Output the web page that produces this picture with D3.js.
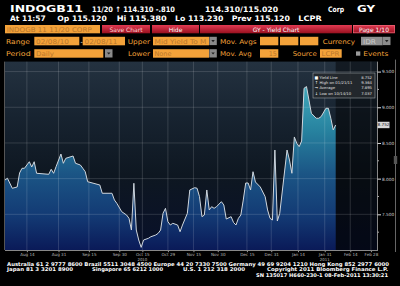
<!DOCTYPE html>
<html>
<head>
<meta charset="utf-8">
<script src="https://cdn.jsdelivr.net/npm/d3@7"></script>
<style>
  body { margin: 0; background: #000; }
  svg { display: block; }
</style>
</head>
<body>
<div id="chart"></div>
<script>
// trading-day index (0 = first day shown) and mid yield to maturity
const days = [0, 1, 3, 5, 6, 7, 8, 10, 11, 12, 13, 18, 19, 20, 21, 23, 24, 25, 28, 29,
  31, 32, 33, 34, 39, 40, 44, 45, 46, 48, 50, 51, 52, 53, 54, 55, 56, 57, 59, 60,
  62, 63, 64, 65, 66, 67, 68, 69, 71, 72, 73, 75, 76, 78, 79, 80, 81, 82, 83, 84,
  85, 86, 87, 89, 90, 91, 93, 94, 95, 96, 97, 98, 99, 100, 101, 102, 103, 105, 107, 108,
  109, 110, 111, 112, 113, 116, 117, 118, 119, 120, 121, 122, 123, 124, 125, 126, 128, 129, 130, 132,
  133, 134, 135, 136];
const yields = [7.981, 8.005, 7.865, 7.883, 8.079, 8.145, 8.145, 8.237, 8.163, 8.237, 8.075, 8.061, 8.131, 8.075, 8.167, 8.345, 8.215, 8.285, 8.317, 8.215,
  8.191, 8.145, 8.097, 7.957, 7.911, 7.795, 7.795, 7.701, 7.654, 7.537, 7.490, 7.444, 7.280, 7.935, 7.280, 7.140, 7.037, 7.140, 7.164, 7.186,
  7.210, 7.234, 7.280, 7.514, 7.584, 7.397, 7.350, 7.374, 7.350, 7.256, 7.350, 7.514, 7.841, 7.873, 7.865, 7.747, 7.467, 7.490, 7.841, 7.561,
  7.607, 7.584, 7.607, 7.677, 7.631, 7.434, 7.467, 7.385, 7.350, 7.444, 7.490, 7.701, 7.939, 7.939, 7.841, 8.097, 7.953, 7.883, 7.747, 7.561,
  7.444, 7.420, 8.401, 7.406, 7.514, 8.401, 8.261, 8.075, 8.584, 8.495, 8.448, 8.527, 9.266, 9.290, 9.102, 8.916, 8.846, 8.846, 8.868, 8.986,
  8.986, 8.846, 8.682, 8.752];

const tickDays = [9, 22, 34.5, 47, 56.5, 67, 77.5, 87.5, 99.5, 109.5, 120.5, 131.5, 142, 150.5];
const tickLabels = ["Aug 14", "Aug 31", "Sep 15", "Sep 30", "Oct 15", "Oct 29", "Nov 15",
  "Nov 30", "Dec 15", "Dec 31", "Jan 14", "Jan 31", "Feb 14", "Feb 28"];
const yearDays = [56.5, 131.5];
const yearLabels = ["2010", "2011"];
const yTicks = [7.5, 8.0, 8.5, 9.0, 9.5];
const yMinor = [7.25, 7.75, 8.25, 8.75, 9.25];

const legendNames = ["Yield Line", "High on 01/21/11", "Average", "Low on 10/14/10"];
const legendValues = ["8.752", "9.364", "7.895", "7.037"];
const lastYield = 8.752;

const W = 400, H = 286;
const svg = d3.select("#chart").append("svg").attr("width", W).attr("height", H);
svg.append("rect").attr("width", W).attr("height", H).attr("fill", "#000");

const orange = "#f3a23a";

function label(x, y, s, opt = {}) {
  const t = svg.append("text")
    .attr("x", x).attr("y", y).text(s)
    .attr("font-family", opt.family || "DejaVu Sans")
    .attr("font-size", opt.size || 7)
    .attr("fill", opt.fill || "#fff")
    .attr("font-weight", opt.weight || "normal")
    .attr("text-anchor", opt.anchor || "start");
  if (opt.len) t.attr("textLength", opt.len).attr("lengthAdjust", "spacingAndGlyphs");
  return t;
}

function box(x, y, w, h, fill) {
  return svg.append("rect").attr("x", x).attr("y", y).attr("width", w).attr("height", h).attr("fill", fill);
}

const defs = svg.append("defs");
const red = defs.append("linearGradient").attr("id", "red").attr("x1", 0).attr("x2", 0).attr("y1", 0).attr("y2", 1);
red.append("stop").attr("offset", 0).attr("stop-color", "#e23a52");
red.append("stop").attr("offset", 1).attr("stop-color", "#98101f");

// ---- header lines
label(10, 11.7, "INDOGB11", { size: 9.5, weight: "bold", len: 73 });
label(92, 11.5, "11/20 \u2191 114.310 -.810", { size: 7.5, weight: "bold", len: 83 });
label(205, 11.5, "114.310/115.020", { size: 7.5, weight: "bold", len: 73 });
label(328, 11.5, "Corp", { size: 7.5, weight: "bold", len: 16 });
label(357, 11.7, "GY", { size: 9.5, weight: "bold", len: 18 });

[["At 11:57", 10, 35.7], ["Op 115.120", 57.3, 49.4], ["Hi 115.380", 116.7, 50],
 ["Lo 113.230", 175, 48.3], ["Prev 115.120", 231.7, 58.3], ["LCPR", 298.3, 23.4]]
  .forEach(([s, x, w]) => label(x, 20.7, s, { size: 7.5, weight: "bold", len: w }));

// ---- control rows
box(5, 25, 95, 8.3, orange);
label(6.7, 31.8, "INDOGB 11 11/20 CORP", { size: 6.5, fill: "#b9772b", len: 85 });
[[102, 48, "Save Chart"], [152, 47, "Hide"], [200, 152, "GY - Yield Chart"], [353, 42, "Page 1/10"]]
  .forEach(([x, w, s]) => {
    box(x, 25, w, 8.3, "url(#red)");
    label(x + w / 2, 31.7, s, { size: 6, fill: x > 150 ? "#fff" : "#ffd6d6", anchor: "middle" });
  });
svg.append("rect").attr("x", 353.5).attr("y", 25.5).attr("width", 41).attr("height", 7.3)
  .attr("fill", "none").attr("stroke", "#f07080").attr("stroke-width", 0.6);

function dropdown(x, y) {
  box(x, y, 7.5, 8.3, "#8a8a8a");
  svg.append("path").attr("d", `M${x + 2},${y + 3.2}L${x + 5.5},${y + 3.2}L${x + 3.75},${y + 5.4}Z`).attr("fill", "#222");
}

// row 4
const r4 = 36.8, r5 = 49.2, bh = 8.5;
label(6, r4 + 7, "Range", { size: 6.5, fill: orange, len: 24 });
box(34.3, r4, 45, bh, orange);
label(36, r4 + 6.8, "02/08/10", { size: 6.5, fill: "#b9772b", len: 33 });
label(80.5, r4 + 6.8, "-", { size: 6.5, fill: "#fff" });
box(82.7, r4, 42.3, bh, orange);
label(84.5, r4 + 6.8, "02/08/11", { size: 6.5, fill: "#b9772b", len: 33 });
label(127.7, r4 + 7, "Upper", { size: 6.5, fill: orange, len: 22.3 });
box(153, r4, 56, bh, orange);
label(154.5, r4 + 6.8, "Mid Yield To M", { size: 6.5, fill: "#b9772b", len: 52 });
dropdown(209.3, r4);
label(220, r4 + 7, "Mov. Avgs", { size: 6.5, fill: orange, len: 36.7 });
box(260, r4, 18.3, bh, orange);
box(280, r4, 18.3, bh, orange);
box(300, r4, 18.3, bh, orange);
label(322.7, r4 + 7, "Currency", { size: 6.5, fill: orange, len: 32.3 });
box(361, r4, 21.7, bh, "#8f8f8f");
label(363, r4 + 6.8, "IDR", { size: 6.5, fill: "#c8c8c8", len: 13 });
dropdown(383, r4);

// row 5
label(6, r5 + 7, "Period", { size: 6.5, fill: orange, len: 24.7 });
box(34.3, r5, 69, bh, orange);
label(36, r5 + 6.8, "Daily", { size: 6.5, fill: "#b9772b", len: 18 });
dropdown(105, r5);
label(128, r5 + 7, "Lower", { size: 6.5, fill: orange, len: 22 });
box(153, r5, 56, bh, orange);
label(154.5, r5 + 6.8, "None", { size: 6.5, fill: "#b9772b", len: 17 });
dropdown(209.3, r5);
label(220, r5 + 7, "Mov. Avg", { size: 6.5, fill: orange, len: 31.7 });
box(260, r5, 18.3, bh, orange);
label(277, r5 + 6.8, "15", { size: 6.5, fill: "#b9772b", anchor: "end" });
label(292.7, r5 + 7, "Source", { size: 6.5, fill: orange, len: 24 });
box(320, r5, 21.7, bh, orange);
label(321.5, r5 + 6.8, "LCPR", { size: 6.5, fill: "#b9772b", len: 18 });
box(356, r5 + 2.2, 4.3, 4.3, "#9a9a9a");
label(363.3, r5 + 7, "Events", { size: 6.5, fill: orange, len: 25 });

// ---- chart
const x0 = 5, x1 = 377, yTop = 61.6, yBot = 250;
const x = d3.scaleLinear().domain([0, 153]).range([x0, x1]);
const y = d3.scaleLinear().domain([7, 9.64]).range([yBot, yTop]);

const bg = defs.append("linearGradient").attr("id", "bg").attr("gradientUnits", "userSpaceOnUse")
  .attr("x1", 0).attr("x2", 0).attr("y1", yTop).attr("y2", yBot);
[[0, "#243240"], [0.3, "#172330"], [0.6, "#0e1721"], [1, "#08102a"]]
  .forEach(([o, c]) => bg.append("stop").attr("offset", o).attr("stop-color", c));

const fg = defs.append("linearGradient").attr("id", "fillGrad").attr("gradientUnits", "userSpaceOnUse")
  .attr("x1", 0).attr("x2", 0).attr("y1", 80).attr("y2", yBot);
[[0, "#44aebf"], [0.3, "#27829f"], [0.55, "#1b5585"], [0.8, "#133a74"], [1, "#0a1a58"]]
  .forEach(([o, c]) => fg.append("stop").attr("offset", o).attr("stop-color", c));

svg.append("rect").attr("x", x0).attr("y", yTop).attr("width", x1 - x0).attr("height", yBot - yTop).attr("fill", "url(#bg)");
// area past the last date is darker
const lastX = x(days[days.length - 1]);
svg.append("rect").attr("x", lastX).attr("y", yTop).attr("width", x1 - lastX).attr("height", yBot - yTop)
  .attr("fill", "#000").attr("opacity", 0.45);

const pts = days.map((d, i) => [d, yields[i]]);

svg.append("path").datum(pts)
  .attr("fill", "url(#fillGrad)")
  .attr("d", d3.area().x(d => x(d[0])).y0(yBot).y1(d => y(d[1])));

// gridlines
const grid = svg.append("g").attr("stroke", "#ffffff").attr("stroke-opacity", 0.18).attr("stroke-width", 0.8);
grid.selectAll(".h").data(yTicks).join("line")
  .attr("x1", x0).attr("x2", x1).attr("y1", d => y(d)).attr("y2", d => y(d));
grid.selectAll(".v").data(tickDays).join("line")
  .attr("x1", d => x(d)).attr("x2", d => x(d)).attr("y1", yTop).attr("y2", yBot);

svg.append("path").datum(pts)
  .attr("fill", "none").attr("stroke", "#cfd6dd").attr("stroke-width", 1)
  .attr("stroke-linejoin", "round")
  .attr("d", d3.line().x(d => x(d[0])).y(d => y(d[1])));

// frame
svg.append("line").attr("x1", x0 - 0.5).attr("x2", x0 - 0.5).attr("y1", yTop).attr("y2", yBot).attr("stroke", "#555");
svg.append("line").attr("x1", x0).attr("x2", x1).attr("y1", yBot + 0.5).attr("y2", yBot + 0.5).attr("stroke", "#888");
svg.append("line").attr("x1", x1 + 0.5).attr("x2", x1 + 0.5).attr("y1", yTop).attr("y2", yBot + 1).attr("stroke", "#888");

// x axis
const xa = svg.append("g").attr("transform", `translate(0,${yBot + 1})`)
  .call(d3.axisBottom(x).tickValues(tickDays).tickFormat((d, i) => tickLabels[i]).tickSize(1.2).tickPadding(0.6));
xa.select(".domain").remove();
xa.selectAll("line").attr("stroke", "#999");
xa.selectAll("text").attr("fill", "#b8b8b8").attr("font-size", 4.1).attr("font-family", "DejaVu Sans");
svg.selectAll(".yr").data(yearDays).join("text")
  .attr("x", d => x(d)).attr("y", 260.6).attr("text-anchor", "middle")
  .attr("fill", "#b8b8b8").attr("font-size", 3.9).attr("font-family", "DejaVu Sans")
  .text((d, i) => yearLabels[i]);

// y axis on the right
const ya = svg.append("g").attr("transform", `translate(${x1 + 0.5},0)`)
  .call(d3.axisRight(y).tickValues(yTicks).tickFormat(d3.format(".3f")).tickSize(3.5).tickPadding(1));
ya.select(".domain").remove();
ya.selectAll("line").attr("stroke", "#ddd");
ya.selectAll("text").attr("fill", "#d0d0d0").attr("font-size", 4.3).attr("font-family", "DejaVu Sans");
svg.selectAll(".minor").data(yMinor).join("line")
  .attr("x1", x1 + 0.5).attr("x2", x1 + 2).attr("y1", d => y(d)).attr("y2", d => y(d)).attr("stroke", "#aaa");

// last value tag
box(x1 + 0.5, y(lastYield) - 3.2, 12, 6.4, "#d8d8d8");
label(x1 + 6.5, y(lastYield) + 1.5, d3.format(".3f")(lastYield), { size: 4.2, fill: "#222", anchor: "middle" });

// right side rail
svg.append("line").attr("x1", 395.5).attr("x2", 395.5).attr("y1", yTop - 2).attr("y2", yBot + 2).attr("stroke", "#666");
box(393.8, 156, 3.4, 8, "#555");

// legend
const lg = svg.append("g").attr("transform", "translate(313,73)");
lg.append("rect").attr("width", 62).attr("height", 25).attr("fill", "#25292e").attr("fill-opacity", 0.9)
  .attr("stroke", "#9aa0a6").attr("stroke-width", 0.6);
const icons = ["\u25A0", "\u2191", "\u2192", "\u2193"];
legendNames.forEach((n, i) => {
  const yy = 6 + i * 5.2;
  lg.append("text").attr("x", 3.5).attr("y", yy).attr("font-size", 4).attr("fill", "#fff")
    .attr("text-anchor", "middle").attr("font-family", "DejaVu Sans").text(icons[i]);
  lg.append("text").attr("x", 6.5).attr("y", yy).attr("font-size", 3.8).attr("fill", "#e0e0e0")
    .attr("font-family", "DejaVu Sans").text(n);
  lg.append("text").attr("x", 59).attr("y", yy).attr("font-size", 3.8).attr("fill", "#e0e0e0")
    .attr("text-anchor", "end").attr("font-family", "DejaVu Sans").text(legendValues[i]);
});

// ---- footer
label(7, 265.8, "Australia 61 2 9777 8600 Brazil 5511 3048 4500 Europe 44 20 7330 7500 Germany 49 69 9204 1210 Hong Kong 852 2977 6000",
  { size: 5.2, weight: "bold", len: 382 });
label(7, 271.2, "Japan 81 3 3201 8900", { size: 5.2, weight: "bold", len: 66 });
label(92, 271.2, "Singapore 65 6212 1000", { size: 5.2, weight: "bold", len: 71 });
label(183, 271.2, "U.S. 1 212 318 2000", { size: 5.2, weight: "bold", len: 62 });
label(267, 271.2, "Copyright 2011 Bloomberg Finance L.P.", { size: 5.2, weight: "bold", len: 121 });
label(388, 277, "SN 135017 H660-230-1 08-Feb-2011 13:30:21", { size: 5.2, weight: "bold", anchor: "end", len: 132 });
</script>
</body>
</html>
